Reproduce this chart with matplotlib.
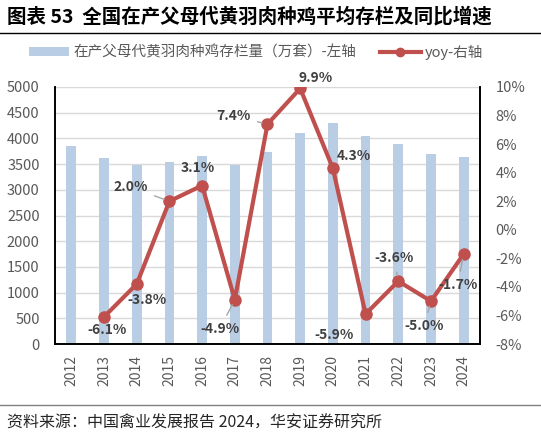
import matplotlib
matplotlib.use("Agg")
import matplotlib.pyplot as plt
from matplotlib.patches import Patch
from matplotlib.lines import Line2D
import numpy as np

plt.rcParams['font.family'] = ['Noto Sans CJK SC', 'DejaVu Sans']

years = ['2012', '2013', '2014', '2015', '2016', '2017', '2018',
         '2019', '2020', '2021', '2022', '2023', '2024']
stock = [3860, 3620, 3480, 3550, 3660, 3480, 3745, 4110, 4295, 4040, 3890, 3700, 3635]
yoy_years = years[1:]
yoy = [-6.1, -3.8, 2.0, 3.1, -4.9, 7.4, 9.9, 4.3, -5.9, -3.6, -5.0, -1.7]
yoy_labels = ['-6.1%', '-3.8%', '2.0%', '3.1%', '-4.9%', '7.4%', '9.9%',
              '4.3%', '-5.9%', '-3.6%', '-5.0%', '-1.7%']

title = '图表 53  全国在产父母代黄羽肉种鸡平均存栏及同比增速'
bar_name = '在产父母代黄羽肉种鸡存栏量（万套）-左轴'
line_name = 'yoy-右轴'
source = '资料来源：中国禽业发展报告 2024，华安证券研究所'

BAR_C = '#B9CDE5'
LINE_C = '#C0504D'
TICK_C = '#595959'
LABEL_C = '#404040'

W, H = 541, 437
fig = plt.figure(figsize=(W / 100, H / 100), dpi=100)
ax = fig.add_axes([55 / W, 1 - 344 / H, (480 - 55) / W, (344 - 87) / H])
ax2 = ax.twinx()

x = np.arange(len(years))
ax.bar(x, stock, width=0.3, color=BAR_C, zorder=2)
ax.set_xlim(-0.5, len(years) - 0.5)
ax.set_ylim(0, 5000)
ax.set_yticks(np.arange(0, 5001, 500))
ax.grid(axis='y', color='#D9D9D9', linewidth=1, zorder=0)
ax.set_axisbelow(True)
ax.set_xticks(x)
ax.set_xticklabels(years, rotation=90)
ax.tick_params(axis='x', length=0, pad=8, labelsize=10, colors=TICK_C)
ax.tick_params(axis='y', length=0, pad=11, labelsize=10.5, colors=TICK_C)

xl = np.array([years.index(y) for y in yoy_years])
ax2.plot(xl, yoy, color=LINE_C, linewidth=3, marker='o', markersize=8,
         zorder=3)
ax2.set_ylim(-8, 10)
ax2.set_yticks(np.arange(-8, 11, 2))
ax2.set_yticklabels([f'{v}%' for v in range(-8, 11, 2)])
ax2.tick_params(axis='y', length=0, pad=11, labelsize=10.5, colors=TICK_C)

for a in (ax, ax2):
    a.spines['top'].set_visible(False)
    for s in ('left', 'right', 'bottom'):
        a.spines[s].set_color('black')
        a.spines[s].set_linewidth(1.2)

offsets = [(3, -13), (10, -16), (-39, 14), (-4, 18), (-15, -29), (-34, 8),
           (15, 10), (21, 12), (-32, -21), (-4, 23), (-7, -25), (-6, -31)]
leaders = [False, False, True, False, True, True, False, False, False, True, True, True]
for xi, v, lab, off, ld in zip(xl, yoy, yoy_labels, offsets, leaders):
    kw = {}
    if ld:
        kw['arrowprops'] = dict(arrowstyle='-', color='#A6A6A6', lw=1,
                                shrinkA=3, shrinkB=4)
    ax2.annotate(lab, (xi, v), xytext=off, textcoords='offset pixels',
                 ha='center', va='center', fontsize=10, fontweight='bold',
                 color=LABEL_C, zorder=5, **kw)

fig.text(7 / W, 1 - 17 / H, title, fontsize=14, fontweight='bold',
         ha='left', va='center', color='black')
fig.add_artist(Line2D([0, 1], [1 - 33 / H, 1 - 33 / H], color='black', lw=1))

handles = [Patch(facecolor=BAR_C, edgecolor='none'),
           Line2D([], [], color=LINE_C, lw=3, marker='o', markersize=6)]
fig.legend(handles, [bar_name, line_name], loc='center',
           bbox_to_anchor=(256 / W, 1 - 52 / H), ncol=2, frameon=False,
           fontsize=10.5, labelcolor=TICK_C, handlelength=2.8,
           handleheight=0.6, columnspacing=1.6, handletextpad=0.3,
           numpoints=1)

fig.add_artist(Line2D([0, 1], [1 - 405 / H, 1 - 405 / H], color='#808080', lw=1))
fig.text(7 / W, 1 - 423 / H, source, fontsize=11.5, ha='left', va='center',
         color='#262626')

fig.savefig('out.png', dpi=100)
